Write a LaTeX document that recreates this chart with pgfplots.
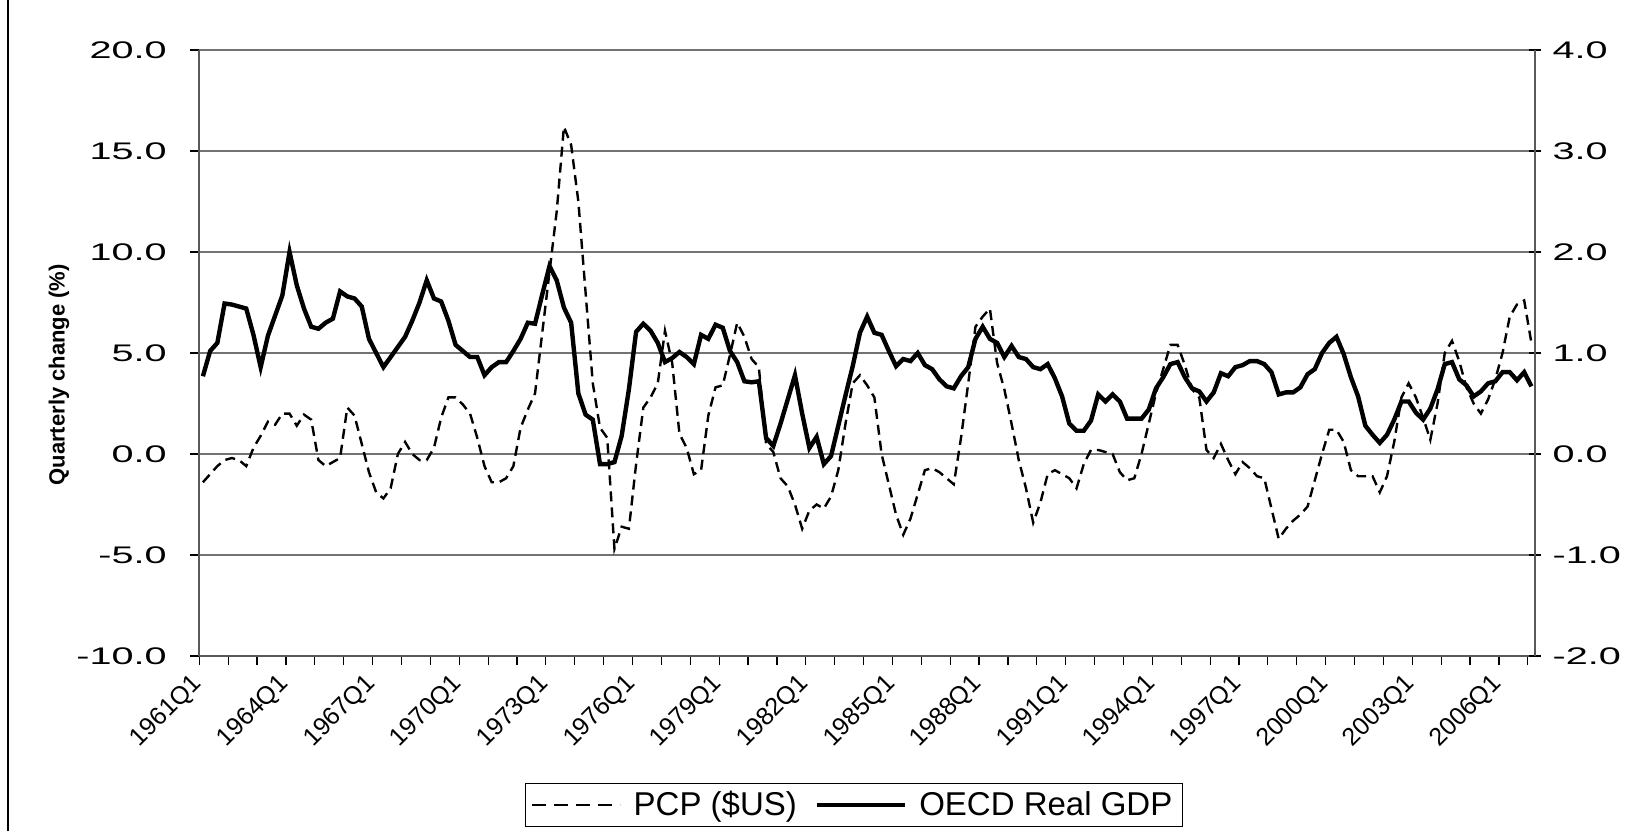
\documentclass[border=0pt]{standalone}
\usepackage{fontspec}
\setmainfont{Liberation Sans}
\usepackage{graphicx}
\usepackage{pgfplots}
\pgfplotsset{compat=1.18}
\usepackage{pgfplotstable}

% category index 0 = 1961Q1, 184 = 2007Q1 (points sit in the middle of each category)
\pgfplotstableread{
i v
0 -1.4
1 -1.0
2 -0.6
3 -0.3
4 -0.2
5 -0.3
6 -0.6
7 0.3
8 0.9
9 1.6
10 1.45
11 2.0
12 2.0
13 1.4
14 1.95
15 1.7
16 -0.3
17 -0.6
18 -0.4
19 -0.2
20 2.3
21 1.9
22 0.5
23 -0.9
24 -1.9
25 -2.2
26 -1.7
27 0.0
28 0.6
29 0.0
30 -0.3
31 -0.3
32 0.3
33 1.8
34 2.8
35 2.8
36 2.45
37 2.0
38 0.8
39 -0.6
40 -1.4
41 -1.4
42 -1.2
43 -0.6
44 1.3
45 2.2
46 3.0
47 6.0
48 9.0
49 12.0
50 16.2
51 15.3
52 12.5
53 8.0
54 3.5
55 1.3
56 0.8
57 -4.7
58 -3.6
59 -3.7
60 -0.5
61 2.3
62 2.8
63 3.5
64 6.1
65 4.5
66 1.0
67 0.3
68 -1.0
69 -0.8
70 1.9
71 3.3
72 3.4
73 4.9
74 6.5
75 5.8
76 4.7
77 4.3
78 0.5
79 0.1
80 -1.2
81 -1.6
82 -2.5
83 -3.7
84 -2.8
85 -2.5
86 -2.7
87 -2.1
88 -0.8
89 1.5
90 3.5
91 3.9
92 3.4
93 2.8
94 0.0
95 -1.5
96 -3.0
97 -4.0
98 -3.2
99 -2.0
100 -0.8
101 -0.7
102 -0.9
103 -1.2
104 -1.5
105 0.8
106 3.5
107 6.3
108 6.8
109 7.2
110 4.5
111 3.2
112 1.5
113 -0.3
114 -1.7
115 -3.4
116 -2.4
117 -1.0
118 -0.8
119 -1.0
120 -1.2
121 -1.7
122 -0.5
123 0.2
124 0.2
125 0.1
126 0.0
127 -0.9
128 -1.3
129 -1.2
130 0.0
131 1.5
132 3.0
133 4.2
134 5.4
135 5.4
136 4.4
137 3.2
138 2.8
139 0.2
140 -0.2
141 0.5
142 -0.3
143 -1.0
144 -0.4
145 -0.7
146 -1.1
147 -1.2
148 -2.7
149 -4.2
150 -3.7
151 -3.3
152 -3.0
153 -2.6
154 -1.3
155 0.0
156 1.2
157 1.2
158 0.6
159 -0.8
160 -1.1
161 -1.1
162 -1.1
163 -1.9
164 -1.1
165 0.6
166 2.8
167 3.5
168 2.8
169 1.8
170 0.7
171 2.5
172 5.0
173 5.6
174 4.6
175 3.3
176 2.5
177 2.0
178 2.7
179 3.7
180 5.0
181 6.8
182 7.4
183 7.6
184 5.5
}\pcptable

\pgfplotstableread{
i v
0 0.77
1 1.02
2 1.10
3 1.49
4 1.48
5 1.46
6 1.44
7 1.18
8 0.86
9 1.17
10 1.37
11 1.57
12 2.00
13 1.67
14 1.44
15 1.26
16 1.24
17 1.30
18 1.34
19 1.61
20 1.56
21 1.54
22 1.46
23 1.14
24 1.00
25 0.86
26 0.96
27 1.06
28 1.16
29 1.32
30 1.50
31 1.72
32 1.54
33 1.51
34 1.32
35 1.08
36 1.02
37 0.96
38 0.96
39 0.78
40 0.86
41 0.91
42 0.91
43 1.02
44 1.14
45 1.30
46 1.29
47 1.58
48 1.86
49 1.72
50 1.45
51 1.30
52 0.60
53 0.39
54 0.34
55 -0.10
56 -0.10
57 -0.08
58 0.18
59 0.64
60 1.21
61 1.29
62 1.22
63 1.10
64 0.91
65 0.95
66 1.01
67 0.96
68 0.89
69 1.18
70 1.14
71 1.28
72 1.25
73 1.02
74 0.91
75 0.72
76 0.71
77 0.72
78 0.16
79 0.08
80 0.30
81 0.54
82 0.78
83 0.40
84 0.06
85 0.17
86 -0.10
87 -0.02
88 0.28
89 0.58
90 0.87
91 1.20
92 1.36
93 1.20
94 1.18
95 1.02
96 0.87
97 0.94
98 0.92
99 1.00
100 0.88
101 0.84
102 0.74
103 0.67
104 0.65
105 0.77
106 0.86
107 1.14
108 1.26
109 1.14
110 1.10
111 0.96
112 1.07
113 0.96
114 0.94
115 0.86
116 0.84
117 0.89
118 0.75
119 0.57
120 0.30
121 0.23
122 0.23
123 0.33
124 0.59
125 0.52
126 0.59
127 0.52
128 0.35
129 0.35
130 0.35
131 0.44
132 0.65
133 0.76
134 0.89
135 0.91
136 0.76
137 0.65
138 0.62
139 0.52
140 0.61
141 0.80
142 0.77
143 0.86
144 0.88
145 0.92
146 0.92
147 0.89
148 0.81
149 0.59
150 0.61
151 0.61
152 0.66
153 0.79
154 0.84
155 1.00
156 1.10
157 1.16
158 0.99
159 0.76
160 0.57
161 0.28
162 0.19
163 0.11
164 0.19
165 0.34
166 0.52
167 0.52
168 0.41
169 0.34
170 0.45
171 0.64
172 0.89
173 0.91
174 0.74
175 0.68
176 0.57
177 0.62
178 0.70
179 0.72
180 0.81
181 0.81
182 0.73
183 0.81
184 0.67
}\gdptable

\begin{document}
\begin{tikzpicture}
\useasboundingbox (0,0) rectangle (816pt,415.5pt);
\draw[line width=0.6pt, black] (4pt,0pt) -- (4pt,415.5pt);

\begin{axis}[
  at={(99.65pt,87.5pt)}, anchor=south west,
  scale only axis, width=667.85pt, height=303pt,
  xmin=0, xmax=185, ymin=-10, ymax=20,
  axis x line*=bottom, axis y line*=left,
  axis line style={line width=1pt, draw=black!65},
  xtick={0,12,...,180},
  xticklabels={1961Q1,1964Q1,1967Q1,1970Q1,1973Q1,1976Q1,1979Q1,1982Q1,1985Q1,1988Q1,1991Q1,1994Q1,1997Q1,2000Q1,2003Q1,2006Q1},
  minor xtick={4,8,...,184},
  ytick={-10,-5,...,20},
  yticklabels={-10.0,-5.0,0.0,5.0,10.0,15.0,20.0},
  ymajorgrids,
  major grid style={line width=0.6pt, draw=black!55},
  tick align=outside,
  major tick length=4.5pt, minor tick length=4.5pt,
  every tick/.style={black, line width=0.6pt},
  xticklabel style={font=\fontsize{12.5}{14}\selectfont, xshift=2pt, yshift=-5pt, rotate=45, anchor=east},
  yticklabel style={font=\fontsize{12}{14}\selectfont, xshift=-6pt, xscale=1.65},
  ylabel={Quarterly change (\%)},
  ylabel style={font=\bfseries\fontsize{11}{13}\selectfont, at={(axis description cs:-0.105,0.464)}, anchor=center},
]
\addplot[black, line width=1.2pt, dash pattern=on 5pt off 3pt] table[x expr=\thisrow{i}+0.5, y=v] {\pcptable};
\end{axis}

\begin{axis}[
  at={(99.65pt,87.5pt)}, anchor=south west,
  scale only axis, width=667.85pt, height=303pt,
  xmin=0, xmax=185, ymin=-2, ymax=4,
  axis x line=none, axis y line*=right,
  axis line style={line width=1pt, draw=black!65},
  ytick={-2,-1,...,4},
  yticklabels={-2.0,-1.0,0.0,1.0,2.0,3.0,4.0},
  tick align=center, major tick length=6pt,
  every tick/.style={black, line width=0.6pt},
  yticklabel style={font=\fontsize{12}{14}\selectfont, xscale=1.65},
  legend style={at={(0.49,-0.246)}, anchor=center, legend columns=2, draw=black, line width=0.6pt,
    font=\fontsize{16.5}{19}\selectfont,
    /tikz/every odd column/.append style={column sep=4pt},
    /tikz/every even column/.append style={column sep=7pt}},
  legend image code/.code={\draw[#1] (0pt,0pt) -- (44pt,0pt);},
]
\addlegendimage{black, line width=1.2pt, dash pattern=on 7pt off 4pt}
\addlegendentry{PCP (\$US)}
\addplot[black, line width=2.2pt] table[x expr=\thisrow{i}+0.5, y=v] {\gdptable};
\addlegendentry{OECD Real GDP}
\end{axis}
\end{tikzpicture}
\end{document}
